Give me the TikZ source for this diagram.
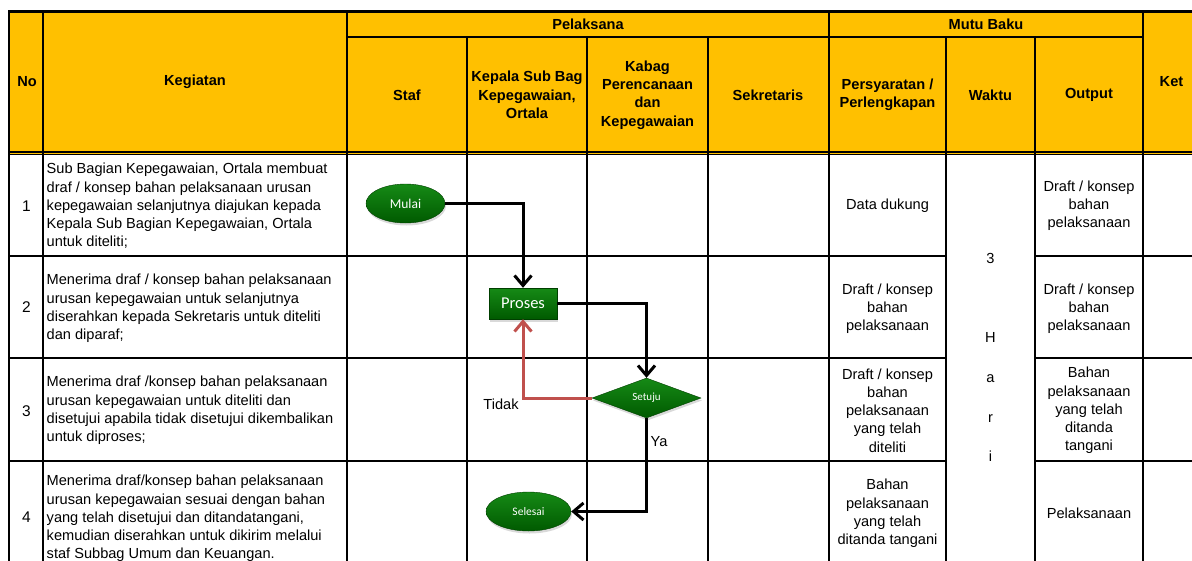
\documentclass[tikz,border=0pt]{standalone}
\usepackage{fontspec}
\setmainfont{Liberation Sans}
\newfontfamily\shapefont{Carlito}
\usetikzlibrary{arrows.meta,shadows,shapes.geometric}
\definecolor{hdr}{HTML}{FFC000}
\definecolor{gdark}{HTML}{005A00}
\definecolor{glight}{HTML}{168A16}
\definecolor{redline}{HTML}{C0504D}
\begin{document}
\begin{tikzpicture}[x=1pt,y=-1pt,
 grid/.style={line width=2pt},
 outer/.style={line width=2.6pt},
 hd/.style={font=\fontsize{14.6}{18.3}\selectfont\bfseries, align=center, inner sep=0pt},
 bd/.style={font=\fontsize{14.6}{18.2}\selectfont, align=center, inner sep=0pt},
 kg/.style={font=\fontsize{14.6}{18.2}\selectfont, align=left, anchor=west, inner sep=0pt},
 gshape/.style={top color=glight, bottom color=gdark, draw=gdark!70!black, line width=0.4pt,
   drop shadow={opacity=0.3,shadow xshift=1pt,shadow yshift=-2.5pt}, text=white, inner sep=0pt},
 conn/.style={line width=3pt, -{Straight Barb[length=10pt,width=17pt]}},
]
\useasboundingbox (0,0) rectangle (1192,560);
\clip (0,0) rectangle (1192,560);
% header fill
\fill[hdr] (9,11.7) rectangle (1205,154);
% grid
\draw[grid] (347,36.5) -- (1143,36.5);
\foreach \x in {43,347,829,1143} \draw[grid] (\x,11.7) -- (\x,565);
\foreach \x in {467,587,708,946,1035} \draw[grid] (\x,36.5) -- (\x,565);
\draw[grid] (9,151.7) -- (1205,151.7);
\draw[line width=1.6pt] (9,154.6) -- (1205,154.6);
\foreach \y in {256,358,461} {
  \draw[grid] (9,\y) -- (946,\y);
  \draw[grid] (1035,\y) -- (1205,\y);
}
\draw[outer] (9,11.7) -- (1205,11.7);
\draw[outer] (9,10.4) -- (9,565);
% header texts
\node[hd] (hno) at (27,82) {No};
\node[hd] (hkeg) at (195,82) {Kegiatan};
\node[hd] (hpel) at (588,24) {Pelaksana};
\node[hd] (hmutu) at (986,24) {Mutu Baku};
\node[hd] (hket) at (1171.5,82) {Ket};
\node[hd] (hstaf) at (407,95) {Staf};
\node[hd] (hksb) at (527,95) {Kepala Sub Bag\\Kepegawaian,\\Ortala};
\node[hd] (hkabag) at (647.5,95) {Kabag\\Perencanaan\\dan\\Kepegawaian};
\node[hd] (hsek) at (768,95) {Sekretaris};
\node[hd] (hpers) at (887.5,95) {Persyaratan /\\Perlengkapan};
\node[hd] (hwaktu) at (990.5,95) {Waktu};
\node[hd] (hout) at (1089,95) {Output};
% numbers
\node[bd, font=\fontsize{15.5}{18}\selectfont] (n1) at (26.5,206) {1};
\node[bd, font=\fontsize{15.5}{18}\selectfont] (n2) at (26.5,307) {2};
\node[bd, font=\fontsize{15.5}{18}\selectfont] (n3) at (26.5,411) {3};
\node[bd, font=\fontsize{15.5}{18}\selectfont] (n4) at (26.5,517.5) {4};
% kegiatan
\node[kg] (k1) at (46.5,206) {Sub Bagian Kepegawaian, Ortala membuat\\draf / konsep bahan pelaksanaan urusan\\kepegawaian selanjutnya diajukan kepada\\Kepala Sub Bagian Kepegawaian, Ortala\\untuk diteliti;};
\node[kg] (k2) at (46.5,308.5) {Menerima draf / konsep bahan pelaksanaan\\urusan kepegawaian untuk selanjutnya\\diserahkan kepada Sekretaris untuk diteliti\\dan diparaf;};
\node[kg] (k3) at (46.5,410.5) {Menerima draf /konsep bahan pelaksanaan\\urusan kepegawaian untuk diteliti dan\\disetujui apabila tidak disetujui dikembalikan\\untuk diproses;};
\node[kg] (k4) at (46.5,518.5) {Menerima draf/konsep bahan pelaksanaan\\urusan kepegawaian sesuai dengan bahan\\yang telah disetujui dan ditandatangani,\\kemudian diserahkan untuk dikirim melalui\\staf Subbag Umum dan Keuangan.};
% persyaratan
\node[bd] (p1) at (887.5,205.5) {Data dukung};
\node[bd] (p2) at (887.5,308.5) {Draft / konsep\\bahan\\pelaksanaan};
\node[bd] (p3) at (887.5,410.5) {Draft / konsep\\bahan\\pelaksanaan\\yang telah\\diteliti};
\node[bd] (p4) at (887.5,513.5) {Bahan\\pelaksanaan\\yang telah\\ditanda tangani};
% waktu
\node[bd, font=\fontsize{14.6}{39.7}\selectfont] (w) at (990.5,357.5) {3\\ \\H\\a\\r\\i};
% output
\node[bd] (o1) at (1089,205.5) {Draft / konsep\\bahan\\pelaksanaan};
\node[bd] (o2) at (1089,308.5) {Draft / konsep\\bahan\\pelaksanaan};
\node[bd] (o3) at (1089,410.5) {Bahan\\pelaksanaan\\yang telah\\ditanda\\tangani};
\node[bd] (o4) at (1089,513) {Pelaksanaan};
% flow shapes
\node[gshape, ellipse, minimum width=79pt, minimum height=39pt, font=\shapefont\fontsize{13.5}{14}\selectfont] (mulai) at (405.5,203.5) {Mulai};
\node[gshape, rectangle, minimum width=68pt, minimum height=31pt, font=\shapefont\fontsize{16.5}{18}\selectfont] (proses) at (523,303.5) {Proses};
\node[gshape, diamond, aspect=2.7, minimum width=109pt, minimum height=40pt, font=\shapefont\fontsize{11}{12}\selectfont] (setuju) at (646.5,398) {Setuju};
\node[gshape, ellipse, minimum width=85pt, minimum height=39pt, font=\shapefont\fontsize{11.5}{12}\selectfont] (selesai) at (528.5,511.5) {Selesai};
% connectors
\draw[conn] (mulai.east) -| (proses.north);
\draw[conn] (proses.east) -| (setuju.north);
\draw[conn, redline] (setuju.west) -| (proses.south);
\draw[conn] (setuju.south) |- (selesai.east);
\node[bd] (tidak) at (501,404) {Tidak};
\node[bd] (ya) at (659,441.5) {Ya};
\end{tikzpicture}
\end{document}
